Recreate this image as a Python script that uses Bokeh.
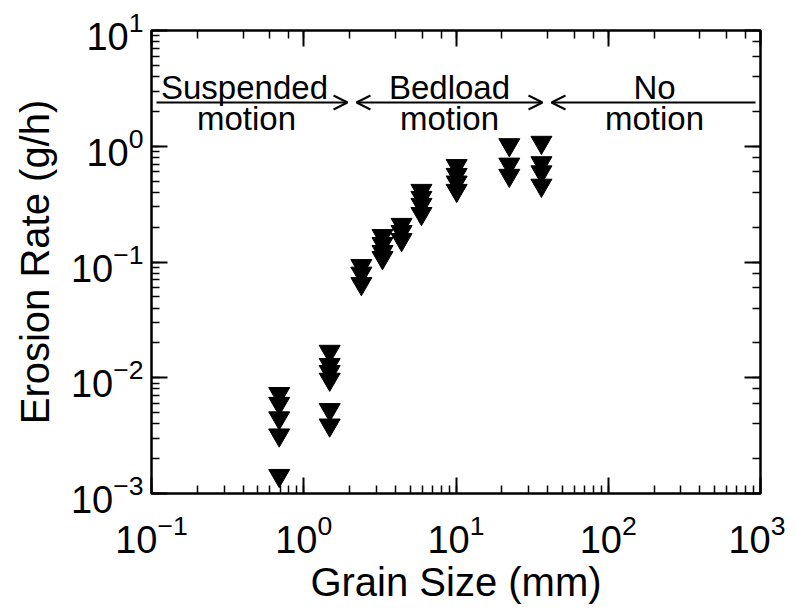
import math
from bokeh.plotting import figure
from bokeh.models import LogAxis, Label, Arrow, OpenHead, Range1d, CustomJSTickFormatter, LogTicker, LogTickFormatter
from bokeh.embed import file_html
from bokeh.resources import INLINE

# ---- data ----
group_size_mm = [0.69, 1.48, 2.39, 3.29, 4.39, 5.93, 10.1, 22.4, 36.4]
group_rates = [
    [0.0073, 0.0060, 0.0045, 0.0032, 0.00143],
    [0.0169, 0.0130, 0.0113, 0.0097, 0.0053, 0.0039],
    [0.093, 0.080, 0.065],
    [0.169, 0.144, 0.123, 0.109],
    [0.211, 0.183, 0.156],
    [0.415, 0.361, 0.314, 0.262],
    [0.68, 0.57, 0.49, 0.415],
    [1.03, 0.70, 0.56],
    [1.08, 0.72, 0.60, 0.46],
]
x_label = "Grain Size (mm)"
y_label = "Erosion Rate (g/h)"

grain = []
rate = []
for gx, rs in zip(group_size_mm, group_rates):
    for r in rs:
        grain.append(gx)
        rate.append(r)

FONT = "Liberation Sans"
W, H = 785, 610
BL, BT = 151, 30
BR = W - 760
BB = H - 493
FW, FH = W - BL - BR, H - BT - BB
XMIN, XMAX = 0.1, 1000.0
YMIN, YMAX = 0.001, 10.0

p = figure(width=W, height=H, x_axis_type="log", y_axis_type="log",
           x_range=Range1d(XMIN, XMAX), y_range=Range1d(YMIN, YMAX),
           output_backend="svg", toolbar_location=None,
           min_border_left=BL, min_border_right=BR, min_border_top=BT, min_border_bottom=BB)
p.grid.visible = False
p.outline_line_color = "black"
p.outline_line_width = 2
p.background_fill_color = "white"
p.border_fill_color = "white"

blank = CustomJSTickFormatter(code="return ''")

def style_axis(ax):
    ax.axis_line_width = 2
    ax.axis_line_color = "black"
    ax.major_tick_in = 16
    ax.major_tick_out = 0
    ax.minor_tick_in = 8
    ax.minor_tick_out = 0
    ax.major_tick_line_width = 2
    ax.minor_tick_line_width = 1.5

for ax in p.xaxis + p.yaxis:
    style_axis(ax)
    ax.formatter = LogTickFormatter()
    ax.major_label_text_font = FONT
    ax.major_label_text_font_size = "38px"
    ax.major_label_text_color = "black"
    ax.axis_label_text_font = FONT
    ax.axis_label_text_font_size = "40px"
    ax.axis_label_text_font_style = "normal"
    ax.axis_label_text_color = "black"

p.xaxis.axis_label = x_label
p.yaxis.axis_label = y_label
p.xaxis.major_label_standoff = 20
p.yaxis.major_label_standoff = 8
p.xaxis.axis_label_standoff = 4
p.yaxis.axis_label_standoff = 11

top = LogAxis(ticker=LogTicker())
right = LogAxis(ticker=LogTicker())
for ax in (top, right):
    style_axis(ax)
    ax.formatter = blank
    ax.major_label_text_font_size = "1px"
    ax.major_label_standoff = 0
p.add_layout(top, "above")
p.add_layout(right, "right")

p.scatter(grain, rate, marker="inverted_triangle", size=21,
          fill_color="black", line_color="black")

# screen pixel -> data helpers for annotation placement
def sx(S):
    px = S - 1
    return 10 ** (math.log10(XMIN) + (px - BL) / FW * (math.log10(XMAX) - math.log10(XMIN)))

def sy(S):
    py = S - 1
    return 10 ** (math.log10(YMAX) - (py - BT) / FH * (math.log10(YMAX) - math.log10(YMIN)))

def lab(x, y, text, size):
    p.add_layout(Label(x=x, y=y, text=text, text_font=FONT, text_font_size=f"{size}px",
                       text_align="center", text_baseline="middle", text_color="black"))

# regime annotations
ARROW_Y = sy(103)
arrows = [
    (sx(157), sx(348), False, True),
    (sx(357), sx(543), True, True),
    (sx(552), sx(756), True, False),
]
for xs, xe, hs, he in arrows:
    p.add_layout(Arrow(x_start=xs, y_start=ARROW_Y, x_end=xe, y_end=ARROW_Y,
                       line_width=2, line_color="black",
                       start=OpenHead(size=14, line_width=2) if hs else None,
                       end=OpenHead(size=14, line_width=2) if he else None))

ANN = 33
lab(sx(245), sy(88), "Suspended", ANN)
lab(sx(247), sy(119), "motion", ANN)
lab(sx(450), sy(88), "Bedload", ANN)
lab(sx(450), sy(119), "motion", ANN)
lab(sx(655), sy(88), "No", ANN)
lab(sx(655), sy(119), "motion", ANN)

open("out.html", "w").write(file_html(p, INLINE))
